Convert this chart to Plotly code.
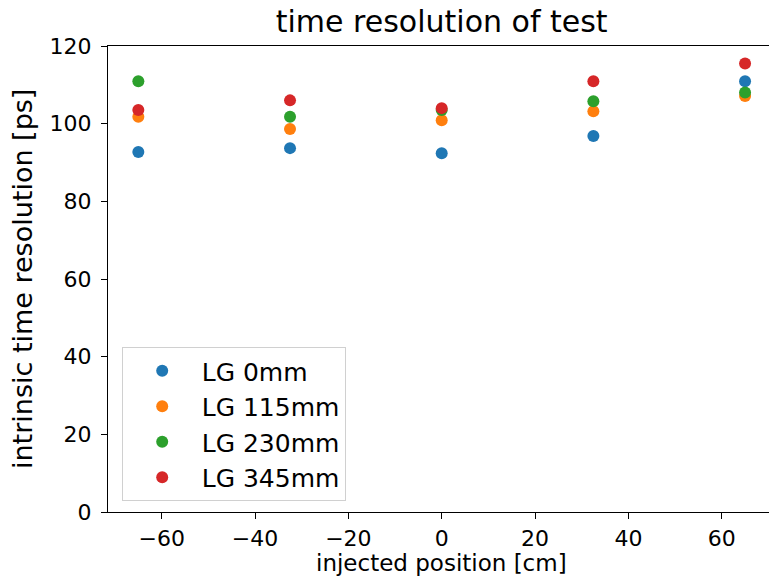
import plotly.graph_objects as go

positions = [-65, -32.5, 0, 32.5, 65]
series_names = ["LG 0mm", "LG 115mm", "LG 230mm", "LG 345mm"]
lg_0mm = [92.7, 93.7, 92.4, 96.8, 110.9]
lg_115mm = [101.8, 98.6, 100.9, 103.2, 107.1]
lg_230mm = [110.9, 101.8, 103.5, 105.8, 108.0]
lg_345mm = [103.5, 106.0, 104.0, 110.9, 115.5]
colors = ["#1f77b4", "#ff7f0e", "#2ca02c", "#d62728"]
x_ticks = [-60, -40, -20, 0, 20, 40, 60]
y_ticks = [0, 20, 40, 60, 80, 100, 120]

W, H = 769, 577
ml, mr, mt, mb = 108, 0, 46, 65
PW, PH = W - ml - mr, H - mt - mb
FONT = "DejaVu Sans"

fig = go.Figure()
for name, vals, col in zip(series_names, [lg_0mm, lg_115mm, lg_230mm, lg_345mm], colors):
    fig.add_trace(go.Scatter(
        x=positions, y=vals, mode="markers", name=name,
        marker=dict(size=12, color=col, line=dict(width=0)),
    ))

axis_common = dict(
    showgrid=False, zeroline=False, showline=True, linecolor="black", linewidth=1.2,
    ticks="outside", ticklen=6, tickwidth=1.2, tickcolor="black",
    tickfont=dict(family=FONT, size=22, color="black"),
)

fig.update_layout(
    width=W, height=H,
    margin=dict(l=ml, r=mr, t=mt, b=mb),
    paper_bgcolor="white", plot_bgcolor="white",
    font=dict(family=FONT, color="black"),
    title=dict(text="time resolution of test", x=441.7 / W, xref="container", xanchor="center",
               y=1 - 21 / H, yanchor="middle", yref="container",
               font=dict(family=FONT, size=30, color="black")),
    xaxis=dict(range=[-71.5, 70.13], tickvals=x_ticks, mirror=True, **axis_common),
    yaxis=dict(range=[0, 120], tickvals=y_ticks, mirror=False, ticklabelstandoff=5, **axis_common),
    legend=dict(x=(121.7 - ml) / PW, y=(511.7 - 500.7) / PH, xanchor="left", yanchor="bottom",
                bgcolor="rgba(255,255,255,0.8)", bordercolor="#d0d0d0", borderwidth=1,
                font=dict(family=FONT, size=25, color="black"),
                itemwidth=69, tracegroupgap=0),
    showlegend=True,
    annotations=[
        dict(text="injected position [cm]", xref="paper", yref="paper",
             x=(441.7 - ml) / PW, y=-(H - 0.5 - (H - mb)) / PH, xanchor="center", yanchor="bottom",
             borderpad=0, showarrow=False, font=dict(family=FONT, size=23, color="black")),
        dict(text="intrinsic time resolution [ps]", xref="paper", yref="paper",
             x=-(ml - 22) / PW, y=0.5, xanchor="center", yanchor="middle", textangle=-90,
             showarrow=False, font=dict(family=FONT, size=27, color="black")),
    ],
)

fig.write_html("out.html")
